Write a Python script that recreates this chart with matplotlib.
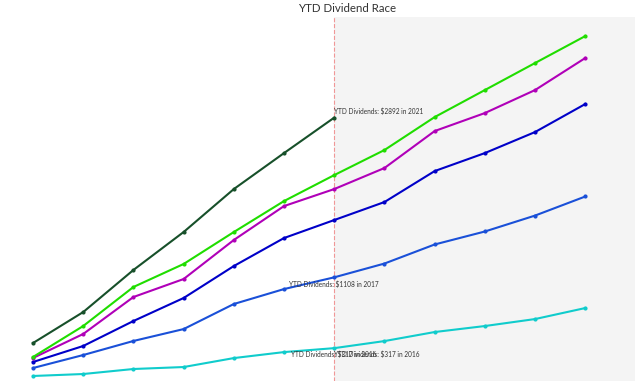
import matplotlib.pyplot as plt

# Months (index) and cumulative YTD dividends per year
months = list(range(12))
div_2016 = [6, 28, 84, 106, 206, 273, 317, 396, 497, 564, 642, 765]
div_2017 = [95, 240, 397, 530, 810, 977, 1108, 1262, 1475, 1620, 1798, 2011]
div_2018 = [162, 341, 620, 877, 1234, 1547, 1748, 1949, 2295, 2496, 2731, 3044]
div_2019 = [207, 475, 888, 1089, 1525, 1904, 2094, 2329, 2742, 2943, 3200, 3558]
div_2020 = [218, 564, 1000, 1257, 1614, 1960, 2250, 2530, 2898, 3200, 3502, 3803]
div_2021 = [374, 720, 1190, 1614, 2094, 2496, 2892]

current_month = 6

plt.rcParams['font.family'] = ['Lato', 'DejaVu Sans']

fig = plt.figure(figsize=(6.4, 3.81), dpi=100)
ax = fig.add_axes([0, 0, 635 / 640, 1 - 17 / 381])

ax.axvspan(current_month, 12.5, color='#f4f4f4', zorder=0, lw=0)
ax.axvline(current_month, color='#f08080', linestyle='--', linewidth=0.8, alpha=0.8, zorder=1)

series = [
    (div_2016, '#10cccc'),
    (div_2017, '#1a50d8'),
    (div_2018, '#0000c8'),
    (div_2019, '#b000b8'),
    (div_2020, '#20dd00'),
    (div_2021, '#17502a'),
]
for vals, col in series:
    ax.plot(months[:len(vals)], vals, color=col, linewidth=1.5,
            marker='o', markersize=2, zorder=3)

# labels at the current month
lbl = dict(fontsize=4.7, color='#333333')
ax.text(current_month, div_2021[current_month] + 30, "YTD Dividends: $2892 in 2021",
        ha='left', va='bottom', **lbl)
ax.text(current_month, div_2017[current_month] - 30, "YTD Dividends: $1108 in 2017",
        ha='center', va='top', **lbl)
ax.text(current_month, div_2016[current_month] - 30, "YTD Dividends: $317 in 2016",
        ha='left', va='top', **lbl)
ax.text(current_month, div_2016[current_month] - 30, "YTD Dividends: $317 in 2016",
        ha='center', va='top', **lbl)

ax.set_xlim(-0.657, 11.99)
ax.set_ylim(-50, 4016)
ax.axis('off')

fig.text(347 / 640, 0.992, "YTD Dividend Race", fontsize=8.3, color='#333333',
         ha='center', va='top')

fig.savefig("out.png", dpi=100)
